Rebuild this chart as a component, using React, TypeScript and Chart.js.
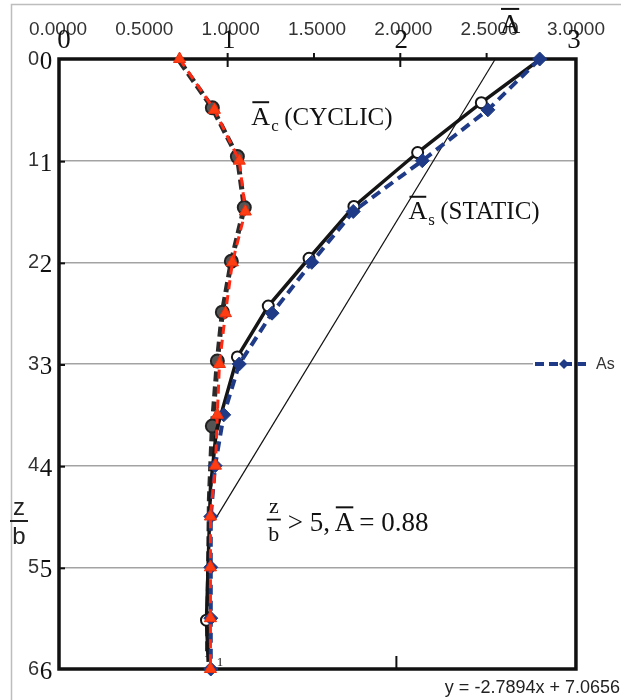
import { useEffect, useRef } from "react";
import { Chart, registerables } from "chart.js";
Chart.register(...registerables);

// depth ratio z/b for the plotted series
const depthLevels = [0, 0.5, 1, 1.5, 2, 2.5, 3, 3.5, 4, 4.5, 5, 5.5, 6];
// Ac (cyclic) values
const acValues = [0.704, 0.906, 1.05, 1.085, 1.01, 0.97, 0.935, 0.923, 0.912, 0.883, 0.883, 0.883, 0.883];
// As (static) values
const asValues = [2.79, 2.49, 2.11, 1.71, 1.47, 1.24, 1.05, 0.96, 0.91, 0.885, 0.885, 0.885, 0.885];

// original (scanned) curves underneath
const scanCyclicA = [0.704, 0.894, 1.039, 1.079, 1.004, 0.952, 0.923, 0.894, 0.877, 0.866];
const scanCyclicZ = [0.02, 0.48, 0.96, 1.46, 1.99, 2.49, 2.97, 3.61, 4.32, 5.88];
const scanCyclicMarks = [0, 1, 1, 1, 1, 1, 1, 1, 0, 0];
const scanStaticA = [2.787, 2.452, 2.083, 1.714, 1.454, 1.218, 1.039, 0.917, 0.883, 0.86, 0.87];
const scanStaticZ = [0.01, 0.43, 0.92, 1.45, 1.96, 2.43, 2.93, 3.66, 4.22, 5.52, 5.93];
const scanStaticMarks = [0, 1, 1, 1, 1, 1, 1, 0, 0, 1, 0];

// trend line end points (y = -2.7894x + 7.0656)
const trendA = [0.906, 2.533];
const trendZ = [4.54, 0];
const equationText = "y = -2.7894x + 7.0656";

const xTickLabels = ["0.0000", "0.5000", "1.0000", "1.5000", "2.0000", "2.5000", "3.0000"];
const yTickLabels = ["0", "1", "2", "3", "4", "5", "6"];
const scanXLabels = ["0", "1", "2", "3"];
const scanYLabels = ["0", "1", "2", "3", "4", "5", "6"];
const legendLabel = "As";

const SERIF = '"Liberation Serif", "DejaVu Serif", serif';
const SANS = '"Liberation Sans", Arial, sans-serif';
const NAVY = "#1f3b87";
const RED = "#ff2a14";

function drawAbar(ctx: CanvasRenderingContext2D, x: number, base: number, size: number) {
  ctx.font = `${size}px ${SERIF}`;
  ctx.textAlign = "left";
  ctx.textBaseline = "alphabetic";
  ctx.fillText("A", x, base);
  const w = ctx.measureText("A").width;
  ctx.beginPath();
  ctx.lineWidth = 2;
  ctx.moveTo(x + 1, base - size * 0.86);
  ctx.lineTo(x + w - 1, base - size * 0.86);
  ctx.stroke();
  return w;
}

const overlay = {
  id: "overlay",
  beforeDatasetsDraw(chart: any) {
    const ctx: CanvasRenderingContext2D = chart.ctx;
    const a = chart.chartArea;
    const xs = chart.scales.x;
    const ys = chart.scales.y;
    ctx.save();

    // legend background
    const ly = ys.getPixelForValue(3);
    ctx.fillStyle = "#fff";
    ctx.fillRect(533, ly - 9, 60, 18);

    // scanned frame
    ctx.strokeStyle = "#111";
    ctx.lineWidth = 3.5;
    ctx.strokeRect(a.left + 1, a.top, a.right - a.left - 1, a.bottom - a.top);

    // scanned ticks
    ctx.lineWidth = 2;
    [1, 2].forEach((v) => {
      const px = xs.getPixelForValue(v) - 3;
      ctx.beginPath();
      ctx.moveTo(px, a.top - 6);
      ctx.lineTo(px, a.top + 8);
      ctx.stroke();
    });
    [1.5, 2.5].forEach((v) => {
      const px = xs.getPixelForValue(v) - 3;
      ctx.beginPath();
      ctx.moveTo(px, a.top - 6);
      ctx.lineTo(px, a.top);
      ctx.stroke();
    });
    for (let v = 1; v <= 5; v++) {
      const py = ys.getPixelForValue(v) + 1;
      ctx.beginPath();
      ctx.moveTo(a.left, py);
      ctx.lineTo(a.left + 7, py);
      ctx.stroke();
    }
    const bx = xs.getPixelForValue(1.96);
    ctx.beginPath();
    ctx.moveTo(bx, a.bottom - 13);
    ctx.lineTo(bx, a.bottom);
    ctx.stroke();
    ctx.fillStyle = "#111";
    ctx.font = `13px ${SERIF}`;
    ctx.textAlign = "left";
    ctx.fillText("1", xs.getPixelForValue(0.92), a.bottom - 3);

    // scanned axis numbers
    ctx.font = `27px ${SERIF}`;
    ctx.textAlign = "center";
    ctx.textBaseline = "alphabetic";
    scanXLabels.forEach((t, i) => {
      const px = xs.getPixelForValue(i) + (i === 0 ? 6 : -2);
      ctx.fillText(t, px, 48);
    });
    ctx.font = `25px ${SERIF}`;
    scanYLabels.forEach((t, i) => {
      ctx.fillText(t, 46, ys.getPixelForValue(i) + 10);
    });

    // scanned annotations
    ctx.strokeStyle = "#111";
    ctx.fillStyle = "#111";
    drawAbar(ctx, 500, 33, 28);

    let x0 = xs.getPixelForValue(1.12);
    let b0 = ys.getPixelForValue(0.645);
    let w = drawAbar(ctx, x0, b0, 26);
    ctx.font = `17px ${SERIF}`;
    ctx.fillText("c", x0 + w + 1, b0 + 6);
    ctx.font = `25px ${SERIF}`;
    ctx.fillText("(CYCLIC)", x0 + w + 14, b0);

    x0 = xs.getPixelForValue(2.03);
    b0 = ys.getPixelForValue(1.575);
    w = drawAbar(ctx, x0, b0, 26);
    ctx.font = `17px ${SERIF}`;
    ctx.fillText("s", x0 + w + 1, b0 + 6);
    ctx.font = `25px ${SERIF}`;
    ctx.fillText("(STATIC)", x0 + w + 13, b0);

    // z/b > 5, A = 0.88
    const fx = xs.getPixelForValue(1.25);
    const fy = ys.getPixelForValue(4.53);
    ctx.font = `22px ${SERIF}`;
    ctx.textAlign = "center";
    ctx.fillText("z", fx, fy - 7);
    ctx.fillText("b", fx, fy + 21);
    ctx.lineWidth = 1.8;
    ctx.beginPath();
    ctx.moveTo(fx - 7, fy);
    ctx.lineTo(fx + 7, fy);
    ctx.stroke();
    ctx.textAlign = "left";
    ctx.font = `27px ${SERIF}`;
    ctx.fillText("> 5,", fx + 14, fy + 11);
    const aw = drawAbar(ctx, fx + 61, fy + 11, 27);
    ctx.font = `27px ${SERIF}`;
    ctx.fillText("= 0.88", fx + 61 + aw + 5, fy + 11);

    // legend
    ctx.strokeStyle = NAVY;
    ctx.lineWidth = 4;
    ctx.setLineDash([9, 5]);
    ctx.beginPath();
    ctx.moveTo(535, ly);
    ctx.lineTo(590, ly);
    ctx.stroke();
    ctx.setLineDash([]);
    ctx.fillStyle = NAVY;
    ctx.beginPath();
    ctx.moveTo(564, ly - 5);
    ctx.lineTo(569, ly);
    ctx.lineTo(564, ly + 5);
    ctx.lineTo(559, ly);
    ctx.closePath();
    ctx.fill();
    ctx.fillStyle = "#333";
    ctx.font = `16px ${SANS}`;
    ctx.textAlign = "left";
    ctx.textBaseline = "middle";
    ctx.fillText(legendLabel, 596, ly + 1);

    ctx.restore();
  },
  afterDraw(chart: any) {
    const ctx: CanvasRenderingContext2D = chart.ctx;
    ctx.save();
    // outer chart border (partial)
    ctx.strokeStyle = "#bdbdbd";
    ctx.lineWidth = 1.5;
    ctx.beginPath();
    ctx.moveTo(11.5, 700);
    ctx.lineTo(11.5, 4.5);
    ctx.lineTo(621, 4.5);
    ctx.stroke();

    // left z/b label
    ctx.fillStyle = "#222";
    ctx.strokeStyle = "#222";
    ctx.font = `24px ${SANS}`;
    ctx.textAlign = "center";
    ctx.textBaseline = "alphabetic";
    ctx.fillText("z", 19, 515);
    ctx.fillText("b", 19, 544);
    ctx.lineWidth = 2;
    ctx.beginPath();
    ctx.moveTo(10, 521);
    ctx.lineTo(28, 521);
    ctx.stroke();

    // equation
    ctx.font = `18px ${SANS}`;
    ctx.textAlign = "right";
    ctx.fillStyle = "#222";
    ctx.fillText(equationText, 620, 693);
    ctx.restore();
  },
};

export default function App() {
  const ref = useRef<HTMLCanvasElement>(null);
  useEffect(() => {
    const toPts = (xs: number[], ys: number[]) => xs.map((v, i) => ({ x: v, y: ys[i] }));
    const chart = new Chart(ref.current!, {
      type: "line",
      data: {
        datasets: [
          {
            label: "Ac",
            data: toPts(acValues, depthLevels),
            borderColor: RED,
            borderWidth: 3,
            borderDash: [9, 6],
            pointStyle: "triangle",
            pointRadius: 7,
            pointBackgroundColor: "#ff3d12",
            pointBorderColor: "#e83010",
            pointBorderWidth: 1,
            tension: 0,
            clip: false,
            order: 0,
          } as any,
          {
            label: legendLabel,
            data: toPts(asValues, depthLevels),
            borderColor: NAVY,
            borderWidth: 4,
            borderDash: [10, 6],
            pointStyle: "rectRot",
            pointRadius: 7,
            pointBackgroundColor: NAVY,
            pointBorderColor: NAVY,
            pointBorderWidth: 1,
            tension: 0,
            clip: false,
            order: 1,
          } as any,
          {
            label: "trend",
            data: toPts(trendA, trendZ),
            borderColor: "#111",
            borderWidth: 1.2,
            pointRadius: 0,
            tension: 0,
            clip: false,
            order: 2,
          } as any,
          {
            label: "scanStatic",
            data: toPts(scanStaticA, scanStaticZ),
            borderColor: "#151515",
            borderWidth: 3.5,
            pointStyle: "circle",
            pointRadius: scanStaticMarks.map((m) => (m ? 5.5 : 0)),
            pointBackgroundColor: "#fff",
            pointBorderColor: "#151515",
            pointBorderWidth: 2,
            tension: 0,
            clip: false,
            order: 3,
          } as any,
          {
            label: "scanCyclic",
            data: toPts(scanCyclicA, scanCyclicZ),
            borderColor: "#2b2b2b",
            borderWidth: 5,
            borderDash: [10, 5],
            pointStyle: "circle",
            pointRadius: scanCyclicMarks.map((m) => (m ? 6.5 : 0)),
            pointBackgroundColor: "#555",
            pointBorderColor: "#222",
            pointBorderWidth: 2,
            tension: 0,
            clip: false,
            order: 4,
          } as any,
        ],
      },
      options: {
        responsive: false,
        animation: false,
        devicePixelRatio: 1,
        layout: { padding: { left: 0, top: 0, right: 45, bottom: 28 } },
        plugins: { legend: { display: false }, tooltip: { enabled: false } },
        scales: {
          x: {
            type: "linear",
            position: "top",
            min: 0,
            max: 3,
            ticks: {
              stepSize: 0.5,
              autoSkip: false,
              maxRotation: 0,
              padding: 18,
              color: "#333",
              font: { family: SANS, size: 19 },
              callback: (v: any) => xTickLabels[Math.round(Number(v) / 0.5)] ?? "",
            },
            grid: { display: false, drawTicks: false },
            border: { display: false },
            afterFit: (s: any) => {
              s.height = 59;
            },
          },
          y: {
            type: "linear",
            reverse: true,
            min: 0,
            max: 6,
            ticks: {
              stepSize: 1,
              autoSkip: false,
              padding: 19,
              color: "#333",
              font: { family: SANS, size: 20 },
              callback: (v: any) => yTickLabels[Math.round(Number(v))] ?? "",
            },
            grid: { color: "#a3a3a3", lineWidth: 1.5, drawTicks: false },
            border: { display: false },
            afterFit: (s: any) => {
              s.width = 58;
            },
          },
        },
      } as any,
      plugins: [overlay],
    });
    return () => chart.destroy();
  }, []);
  return (
    <div style={{ width: 623, height: 700, position: "relative" }}>
      <style>{"body{margin:0}"}</style>
      <canvas ref={ref} width={623} height={700} style={{ display: "block" }} />
    </div>
  );
}
